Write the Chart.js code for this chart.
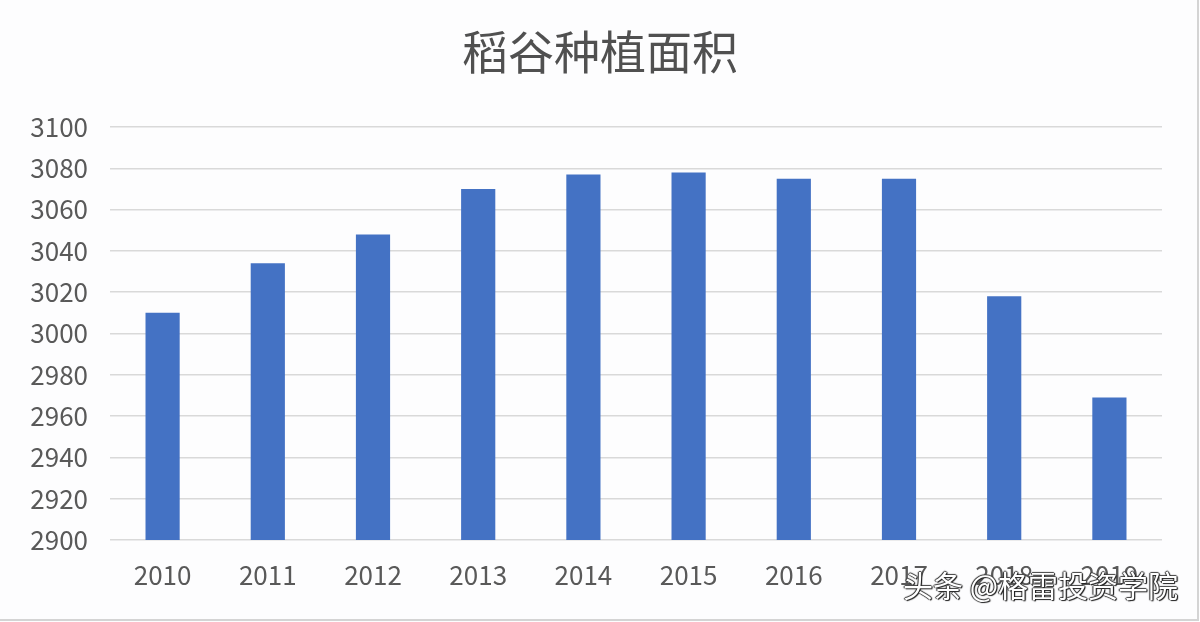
<!DOCTYPE html>
<html>
<head>
<meta charset="utf-8">
<script src="https://cdn.jsdelivr.net/npm/chart.js@4/dist/chart.umd.min.js"></script>
<style>
    html, body { margin: 0; padding: 0; background: #fdfdfe; }
    #wrap { position: relative; width: 1200px; height: 622px; }
    #frame {
        position: absolute; left: 0; top: 0; width: 1197px; height: 619px;
        border-right: 2px solid #d4d4d4; border-bottom: 2px solid #d4d4d4;
        pointer-events: none;
    }
    #mark {
        position: absolute; left: 903px; top: 562px;
        font-family: 'Noto Sans CJK SC', sans-serif; font-size: 30px;
        color: #fff; white-space: nowrap;
        text-shadow: 1px 1px 1px #222, -1px 0 1px #222, 0 -1px 1px #444, 1px 0 1px #222;
    }
</style>
</head>
<body>
<div id="wrap">
    <canvas id="riceChart" width="1200" height="622"></canvas>
    <div id="frame"></div>
    <div id="mark">头条 @格雷投资学院</div>
</div>
<script>
// 稻谷种植面积（按年份）
const years = ['2010', '2011', '2012', '2013', '2014', '2015', '2016', '2017', '2018', '2019'];
const areas = [3010, 3034, 3048, 3070, 3077, 3078, 3075, 3075, 3018, 2969];
const yTicks = [2900, 2920, 2940, 2960, 2980, 3000, 3020, 3040, 3060, 3080, 3100];
const chartTitle = '稻谷种植面积';

const FONT = "'Noto Sans CJK SC', 'Microsoft YaHei', sans-serif";

// 標題置中於整張畫布（圖表區右側有留白）
const centerTitle = {
    id: 'centerTitle',
    afterDraw: function (chart) {
        const ctx = chart.ctx;
        ctx.save();
        ctx.font = 'normal 46px ' + FONT;
        ctx.fillStyle = '#505050';
        ctx.textAlign = 'center';
        ctx.textBaseline = 'middle';
        ctx.fillText(chartTitle, chart.width / 2, 52);
        ctx.restore();
    }
};

document.addEventListener('DOMContentLoaded', function () {
    const canvas = document.getElementById('riceChart');
    new Chart(canvas, {
        type: 'bar',
        data: {
            labels: years,
            datasets: [{
                label: chartTitle,
                data: areas,
                backgroundColor: '#4472C4',
                borderWidth: 0,
                categoryPercentage: 1,
                barPercentage: 0.325
            }]
        },
        plugins: [centerTitle],
        options: {
            responsive: false,
            animation: false,
            layout: {
                padding: { left: 0, right: 38, top: 127, bottom: 0 }
            },
            plugins: {
                legend: { display: false },
                tooltip: { enabled: false },
                title: { display: false }
            },
            scales: {
                y: {
                    min: yTicks[0],
                    max: yTicks[yTicks.length - 1],
                    afterBuildTicks: function (scale) {
                        scale.ticks = yTicks.map(function (v) { return { value: v }; });
                    },
                    afterFit: function (scale) {
                        scale.width = 110;
                    },
                    border: { display: false },
                    grid: {
                        color: '#d9d9d9',
                        lineWidth: 1.5,
                        drawTicks: false
                    },
                    ticks: {
                        color: '#595959',
                        padding: 22,
                        font: { size: 26, family: FONT },
                        callback: function (value) {
                            return String(value);
                        }
                    }
                },
                x: {
                    afterFit: function (scale) {
                        scale.height = 82;
                    },
                    border: { display: false },
                    grid: { display: false, drawTicks: false },
                    ticks: {
                        color: '#595959',
                        padding: 20,
                        maxRotation: 0,
                        autoSkip: false,
                        font: { size: 26, family: FONT }
                    }
                }
            }
        }
    });
});
</script>
</body>
</html>
